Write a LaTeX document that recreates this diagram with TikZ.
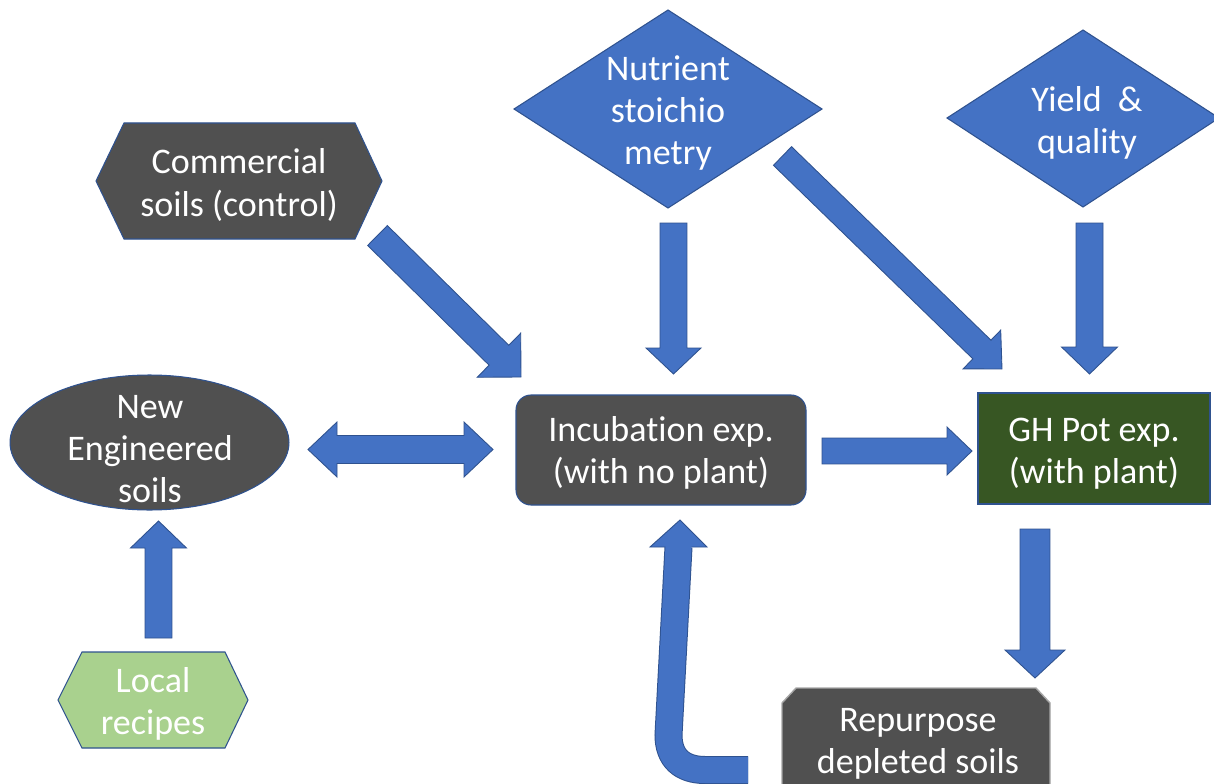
\documentclass[tikz,border=0pt]{standalone}
\usepackage{fontspec}
\setmainfont{Carlito}[Ligatures=NoCommon]
\usetikzlibrary{calc}
\definecolor{dgray}{RGB}{80,80,80}
\definecolor{bfill}{RGB}{68,114,196}
\definecolor{bline}{RGB}{47,82,143}
\definecolor{dgreen}{RGB}{55,86,35}
\definecolor{lgreen}{RGB}{169,209,142}
\tikzset{
  shapeline/.style={draw=bline, line width=0.6pt, line join=miter},
  lbl/.style={text=white, align=center, font=\fontsize{20.5}{24}\selectfont, inner sep=0pt},
  barrow/.style={fill=bfill, draw=bline, line width=0.5pt, line join=miter},
}
% straight block arrow: start, tip, shaft width px, head width px, head length px
\newcommand\blockarr[5]{%
  \coordinate (ba-base) at ($(#2)!{#5*0.02cm}!(#1)$);
  \path[barrow] ($(#1)!{#3*0.01cm}!90:(#2)$) -- ($(ba-base)!{#3*0.01cm}!90:(#2)$)
    -- ($(ba-base)!{#4*0.01cm}!90:(#2)$) -- (#2)
    -- ($(ba-base)!{#4*0.01cm}!-90:(#2)$) -- ($(ba-base)!{#3*0.01cm}!-90:(#2)$)
    -- ($(#1)!{#3*0.01cm}!-90:(#2)$) -- cycle;}
% double-headed block arrow
\newcommand\dblarr[5]{%
  \coordinate (da-b1) at ($(#1)!{#5*0.02cm}!(#2)$);
  \coordinate (da-b2) at ($(#2)!{#5*0.02cm}!(#1)$);
  \path[barrow] (#1) -- ($(da-b1)!{#4*0.01cm}!90:(#2)$) -- ($(da-b1)!{#3*0.01cm}!90:(#2)$)
    -- ($(da-b2)!{#3*0.01cm}!90:(#2)$) -- ($(da-b2)!{#4*0.01cm}!90:(#2)$) -- (#2)
    -- ($(da-b2)!{#4*0.01cm}!-90:(#2)$) -- ($(da-b2)!{#3*0.01cm}!-90:(#2)$)
    -- ($(da-b1)!{#3*0.01cm}!-90:(#2)$) -- ($(da-b1)!{#4*0.01cm}!-90:(#2)$) -- cycle;}
\begin{document}
\begin{tikzpicture}[x=0.02cm, y=-0.02cm]
\useasboundingbox (0,0) rectangle (1214,784);
\fill[white] (0,0) rectangle (1214,784);

% ---- shapes ----
\path[shapeline, fill=dgray] (96,181) -- (124,123) -- (355,123) -- (382,181) -- (355,239) -- (124,239) -- cycle;
\path[shapeline, fill=bfill] (514,109) -- (668,10) -- (822,109) -- (668,208) -- cycle;
\path[shapeline, fill=bfill] (947,118) -- (1083,30) -- (1219,118) -- (1083,207) -- cycle;
\path[shapeline, fill=dgray] (149.5,442.5) ellipse [x radius=2.79cm, y radius=1.35cm];
\path[shapeline, fill=dgray, rounded corners=0.3cm] (516,395) rectangle (806,505);
\path[shapeline, fill=dgreen] (978,393) rectangle (1210,504);
\path[shapeline, fill=lgreen] (58,700) -- (82,652) -- (225,652) -- (248,700) -- (225,748) -- (82,748) -- cycle;
\path[draw=black!35, line width=0.8pt, fill=dgray] (782,800) -- (782,703) -- (796,688) -- (1036,688) -- (1050,703) -- (1050,800) -- cycle;

% ---- labels ----
\node[lbl] (comm) at (239,185) {Commercial\\soils (control)};
\node[lbl] (nutr) at (668,113) {Nutrient\\stoichio\\metry};
\node[lbl] (yield) at (1087,123) {Yield\ \ \&\\quality};
\node[lbl] (newsoil) at (150,449) {New\\Engineered\\soils};
\node[lbl] (incub) at (661,453) {Incubation exp.\\(with no plant)};
\node[lbl] (gh) at (1094,454) {GH Pot exp.\\(with plant)};
\node[lbl] (local) at (153,704) {Local\\recipes};
\node[lbl] (rep) at (918,744) {Repurpose\\depleted soils};

% ---- arrow end points ----
\coordinate (a1s) at (377.5,235.5);  \coordinate (a1t) at (521,377);
\coordinate (a2s) at (673.5,223);    \coordinate (a2t) at (673.5,374);
\coordinate (a3s) at (782.5,156);    \coordinate (a3t) at (1002,369);
\coordinate (a4s) at (1089.5,223);   \coordinate (a4t) at (1089.5,374);
\coordinate (a5s) at (308,449.5);    \coordinate (a5t) at (493,449.5);
\coordinate (a6s) at (822,451);      \coordinate (a6t) at (972,451);
\coordinate (a7s) at (1035,529);     \coordinate (a7t) at (1035,678);
\coordinate (a8s) at (158.5,638);    \coordinate (a8t) at (158.5,521);

\blockarr{a1s}{a1t}{28}{62}{31}
\blockarr{a2s}{a2t}{27}{55}{26}
\blockarr{a3s}{a3t}{26}{54}{28}
\blockarr{a4s}{a4t}{27}{56}{27}
\dblarr{a5s}{a5t}{28}{55}{29}
\blockarr{a6s}{a6t}{26}{48}{25}
\blockarr{a7s}{a7t}{30}{60}{28}
\blockarr{a8s}{a8t}{27}{56}{27}

% ---- bent arrow from Repurpose back to Incubation ----
\coordinate (c0) at (748,770);
\coordinate (c1) at (705,770);
\coordinate (c2) at (668.5,735);
\coordinate (c3) at (678.5,547);
\coordinate (c3b) at (678.6,545);
\coordinate (ct) at (680,520);
\draw[bline, line width=0.56cm] (c0) -- (c1) .. controls (682,770) and (668.5,758) .. (c2) -- (c3);
\path[barrow] (650,547) -- (ct) -- (707,547) -- cycle;
\draw[bfill, line width=0.52cm] (c0) -- (c1) .. controls (682,770) and (668.5,758) .. (c2) -- (c3b);
\end{tikzpicture}
\end{document}
